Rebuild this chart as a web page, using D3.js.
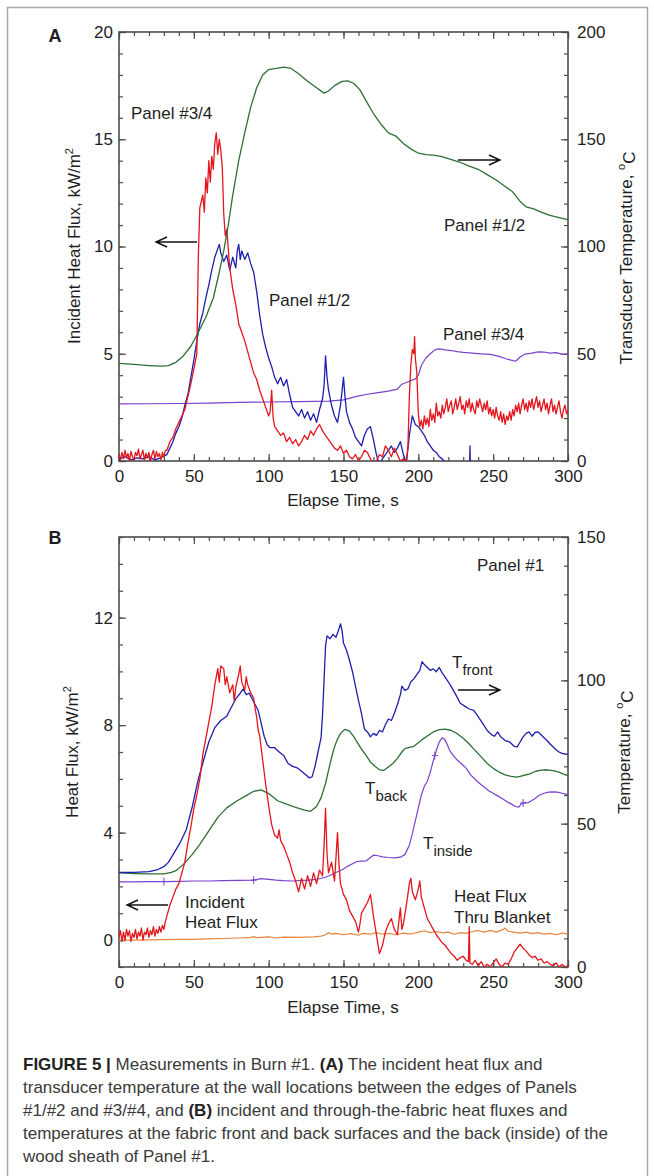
<!DOCTYPE html>
<html>
<head>
<meta charset="utf-8">
<script src="https://cdn.jsdelivr.net/npm/d3@7"></script>
<style>
  body { margin: 0; background: #fff; }
  svg text { font-family: "Liberation Sans", Arial, sans-serif; fill: #1e1e1e; }
</style>
</head>
<body>
<svg id="fig" width="654" height="1176"></svg>
<script>
// ---- panel A : incident heat flux (kW/m2) and transducer temperature (C)
const fluxA34 = [[0,0.3],[1,0.05],[2,0.4],[3,0.1],[4,0.5],[5,0.15],[6,0.35],[7,0.0],[8,0.45],[9,0.2],[10,0.05],[11,0.4],[12,0.25],[13,0.55],[14,0.1],[15,0.3],
  [16,0.5],[17,0.05],[18,0.35],[19,0.15],[20,0.4],[21,0.0],[22,0.3],[23,0.5],[24,0.1],[25,0.45],[26,0.2],[27,0.35],[28,0.05],[29,0.4],[30,0.2],[31,0.5],
  [32,0.5],[34,0.9],[36,1.1],[38,1.5],[40,1.8],[42,2.1],[44,2.4],[46,3.0],[48,3.6],[50,4.3],[52,5.0],[53,9.5],[54,11.8],[56,12.4],[57,11.6],[58,13.2],[59,12.5],
  [60,14.0],[61,13.0],[62,14.2],[63,13.6],[64,14.8],[65,15.3],[66,14.3],[67,15.0],[68,14.5],[69,13.7],[70,11.5],[71,10.5],[72,10.8],[74,9.0],[76,8.0],[78,7.3],
  [80,6.4],[82,6.0],[84,5.6],[86,5.1],[88,4.6],[90,4.1],[92,3.8],[94,3.3],[96,2.9],[98,2.5],[100,2.1],[101,2.3],[102,3.3],[103,2.0],[104,1.6],[106,1.4],[108,1.2],
  [110,1.3],[112,0.9],[114,1.1],[116,0.8],[118,1.0],[120,0.7],[122,0.9],[124,1.2],[126,1.0],[128,1.4],[130,1.2],[132,1.5],[134,1.7],[136,1.4],[138,1.2],[140,1.0],
  [142,0.8],[144,0.6],[146,0.5],[148,0.7],[150,0.35],[152,0.5],[154,0.2],[156,0.1],[158,0.3],[160,0.0],[162,0.2],[164,0.5],[166,0.4],[168,0.1],[170,-0.1],[172,0.0],
  [174,0.3],[176,0.2],[178,0.7],[180,0.5],[182,0.2],[184,0.6],[186,0.3],[188,0.0],[190,0.1],[192,0.0],[193,0.6],[194,3.0],[195,4.5],[196,5.2],[197,5.0],[197.5,5.8],
  [198,4.8],[199,4.1],[200,2.2],[201,1.6],[202,1.9],[203,1.5],[204,2.1],[205,1.7],[206,2.0],[207,1.6],[208,2.4],[209,1.9],[210,2.2],[211,1.8],[212,2.7],[213,2.1],
  [214,2.3],[215,2.0],[216,2.6],[217,2.2],[218,2.5],[219,2.9],[220,2.3],[221,2.6],[222,2.8],[223,2.2],[224,2.5],[225,2.9],[226,2.4],[227,2.7],[228,3.0],[229,2.4],
  [230,2.6],[231,2.2],[232,2.8],[233,2.5],[234,2.9],[235,2.3],[236,2.7],[237,2.4],[238,2.2],[239,2.8],[240,2.5],[241,2.9],[242,2.6],[243,2.3],[244,2.7],[245,2.4],
  [246,2.8],[247,2.2],[248,2.5],[249,2.1],[250,2.4],[251,2.0],[252,2.5],[253,2.1],[254,1.9],[255,2.3],[256,1.8],[257,2.2],[258,1.7],[259,2.1],[260,1.9],[261,2.3],
  [262,1.9],[263,2.4],[264,2.1],[265,2.6],[266,2.3],[267,2.7],[268,2.2],[269,2.6],[270,2.9],[271,2.4],[272,2.7],[273,2.3],[274,2.8],[275,2.5],[276,2.9],[277,2.4],
  [278,2.7],[279,3.0],[280,2.5],[281,2.8],[282,2.3],[283,2.6],[284,2.9],[285,2.4],[286,2.7],[287,2.2],[288,2.6],[289,2.9],[290,2.3],[291,2.6],[292,2.2],[293,2.5],
  [294,2.8],[295,2.3],[296,2.0],[297,2.4],[298,2.6],[299,2.2],[300,2.4]];

const fluxA12 = [[0,0.1],[4,0.2],[8,0.05],[12,0.15],[16,0.1],[20,0.2],[24,0.05],[28,0.15],[32,0.3],[34,0.6],[36,0.9],[38,1.3],[40,1.6],[42,2.0],[44,2.6],[46,3.1],
  [48,3.9],[50,4.7],[52,5.6],[54,6.4],[56,6.9],[58,7.6],[60,8.2],[62,8.9],[64,9.5],[66,9.9],[67,10.1],[68,9.7],[70,9.3],[72,9.6],[74,8.9],[76,9.5],[78,9.0],[79,9.8],
  [80,10.1],[81,9.4],[82,9.8],[84,9.4],[86,9.7],[88,9.2],[90,8.8],[92,7.9],[94,6.8],[96,5.9],[98,5.3],[100,4.8],[102,4.4],[104,3.9],[106,3.6],[108,3.9],[110,3.5],
  [112,3.8],[114,3.1],[116,2.5],[118,2.3],[120,2.1],[122,2.4],[124,2.0],[126,2.3],[128,1.9],[130,2.2],[132,1.8],[134,2.4],[136,2.9],[137,3.5],[138,4.9],[139,3.9],
  [140,3.3],[142,2.6],[144,2.1],[146,1.8],[148,2.6],[150,3.9],[151,3.0],[152,2.3],[154,1.8],[156,1.5],[158,1.1],[160,0.9],[162,0.7],[164,1.2],[166,1.5],[168,1.6],
  [170,1.0],[172,0.3],[174,-0.2],[176,0.1],[178,0.3],[180,0.5],[182,0.7],[184,0.4],[186,0.6],[188,0.9],[190,0.3],[192,-0.1],[194,1.2],[196,2.1],[198,1.7],[200,1.6],
  [202,1.4],[204,1.2],[206,0.9],[208,0.7],[210,0.5],[212,0.4],[214,0.2],[216,0.1],[218,-0.1],[220,-0.4],[224,-0.8],[228,-1],[234,-1],[234.5,0.7],[235,-1],[240,-1]];

const tempA12 = [[0,45.5],[10,45.0],[20,44.5],[28,44.2],[33,44.5],[38,46],[43,49],[48,53.5],[53,60],[58,67],[63,76],[67,88],[70,98],[73,110],[76,124],[80,140],
  [84,153],[88,165],[92,174],[96,180],[100,182.5],[105,183],[110,183.6],[115,183],[120,180.5],[126,177],[132,174],[137,171.5],[140,172.5],[144,175],[149,177],
  [153,177.2],[157,176],[161,173],[165,168],[170,162],[175,157],[180,153],[185,151.5],[190,148],[195,145.5],[200,143.5],[205,142.8],[210,142.6],[215,142.0],
  [220,141],[227,139.5],[234,137.5],[240,136],[246,133.5],[252,131],[258,128],[263,125.5],[268,121],[272,118.5],[277,117.5],[282,116],[288,114.5],[294,113.5],[300,112.5]];

const tempA34 = [[0,26.6],[20,26.7],[40,26.8],[60,27.0],[80,27.3],[100,27.5],[120,27.7],[140,27.9],[150,28.5],[158,30],[165,31],[172,31.8],[180,32.6],[186,33.5],
  [189,35.8],[194,37.2],[198,38.3],[200,40],[202,44.5],[205,48],[208,50],[211,51.8],[214,52.3],[218,51.8],[222,51.5],[226,51.0],[230,50.6],[236,50.3],[242,49.9],
  [248,49.7],[254,48.8],[258,47.8],[262,47.0],[265,46.5],[268,48.5],[271,49.8],[275,50.2],[280,50.9],[284,50.8],[288,50.3],[292,50.5],[296,49.8],[300,49.6]];

// ---- panel B : heat flux (kW/m2) and temperature (C), Panel #1
const fluxBinc = [[0,0.1],[1,0.35],[2,-0.05],[3,0.3],[4,0.0],[5,0.4],[6,0.15],[7,0.35],[8,-0.05],[9,0.25],[10,0.1],[11,0.4],[12,0.05],[13,0.3],[14,0.15],[15,0.45],
  [16,0.0],[17,0.3],[18,0.2],[19,0.45],[20,0.1],[21,0.35],[22,0.2],[23,0.5],[24,0.15],[25,0.4],[26,0.25],[27,0.5],[28,0.3],[29,0.55],[30,0.4],[31,0.7],
  [32,0.9],[34,1.3],[36,1.6],[38,1.9],[40,2.1],[42,2.5],[44,2.9],[46,3.6],[48,4.2],[50,4.9],[52,5.4],[54,6.0],[56,6.9],[58,7.5],[60,8.1],[62,8.7],[64,9.5],[66,10.1],
  [67,9.6],[68,10.2],[70,10.1],[71,9.5],[72,9.8],[74,9.2],[76,9.5],[77,8.9],[78,9.4],[80,9.9],[81,10.2],[82,9.6],[84,9.3],[85,9.8],[86,9.5],[88,9.2],[90,9.0],
  [91,8.6],[92,8.3],[93,7.8],[94,7.6],[96,6.7],[98,5.8],[100,5.0],[102,4.3],[104,3.9],[106,3.8],[107,4.1],[108,3.7],[110,3.5],[112,3.2],[114,2.9],[116,2.5],
  [118,2.2],[120,1.8],[122,2.3],[124,1.9],[126,2.4],[128,2.0],[130,2.5],[132,2.1],[134,2.6],[136,2.4],[137,3.5],[138,4.9],[139,3.2],[140,2.5],[142,2.9],[144,2.2],
  [145,3.1],[146,4.0],[147,2.8],[148,2.1],[150,1.7],[152,1.5],[154,1.1],[156,0.9],[158,0.7],[160,0.3],[161,0.6],[162,1.0],[164,1.2],[166,1.4],[168,1.7],[170,0.9],
  [172,0.2],[174,-0.5],[176,-0.2],[178,0.3],[180,0.6],[182,0.8],[184,0.4],[186,0.2],[188,1.2],[189,0.4],[190,0.6],[192,1.3],[194,2.1],[195,2.3],[196,1.8],[198,1.5],
  [200,1.9],[201,2.2],[202,1.6],[204,1.2],[206,0.8],[208,0.6],[210,0.4],[212,0.2],[214,0.05],[216,-0.1],[218,-0.2],[220,-0.35],[222,-0.5],[224,-0.6],[226,-0.75],
  [228,-0.65],[230,-0.6],[232,-0.75],[233.5,-0.8],[234,0.5],[234.5,-0.85],[236,-0.9],[238,-0.75],[240,-0.95],[242,-0.8],[244,-1.0],[246,-0.9],[248,-1.0],[250,-0.85],
  [252,-0.7],[254,-0.9],[256,-1.0],[258,-0.85],[260,-0.9],[262,-0.7],[264,-0.45],[266,-0.3],[268,-0.15],[270,-0.3],[272,-0.4],[274,-0.55],[276,-0.65],[278,-0.6],
  [280,-0.75],[282,-0.7],[284,-0.85],[286,-0.8],[288,-0.9],[290,-0.95],[292,-0.85],[294,-1.0],[296,-0.9],[298,-1.0],[300,-0.95]];

const fluxBthru = [[0,0],[10,0.0],[20,0.01],[30,0.02],[40,0.03],[50,0.03],[60,0.05],[70,0.06],[80,0.08],[88,0.1],[90,0.13],[92,0.09],[100,0.12],[105,0.08],[110,0.11],
  [120,0.1],[130,0.12],[135,0.15],[138,0.2],[140,0.28],[142,0.22],[145,0.25],[150,0.2],[155,0.24],[160,0.18],[163,0.25],[168,0.22],[172,0.28],[176,0.22],[180,0.25],
  [185,0.2],[190,0.26],[195,0.22],[200,0.3],[204,0.35],[208,0.28],[212,0.32],[216,0.27],[220,0.3],[224,0.22],[228,0.28],[232,0.25],[236,0.32],[240,0.35],[244,0.3],
  [248,0.36],[252,0.3],[256,0.38],[258,0.45],[260,0.33],[264,0.3],[268,0.26],[272,0.3],[276,0.24],[280,0.28],[284,0.22],[288,0.25],[292,0.2],[296,0.26],[300,0.22]];

const tempBfront = [[0,33],[10,33],[20,33.3],[26,34],[30,35],[33,36.5],[37,40],[41,43.5],[45,48],[49,56],[53,65.5],[57,73],[60,78.5],[64,83.5],[68,86],[72,87.5],
  [75,90.5],[78,93.5],[81,95.5],[83,97],[85,95],[87,95.5],[89,93.5],[91,91.5],[93,89.5],[95,85],[97,80.5],[99,77.5],[101,76.5],[104,76.5],[107,75],[110,73.8],
  [113,71],[116,70],[119,69.5],[122,68.3],[125,67],[127,66],[129,66.3],[131,70],[133,75],[135,80],[136,88],[137,100],[138,112],[139,115.5],[141,114.5],[143,116],
  [145,115],[147,118],[148,119.7],[149,117.5],[150,113],[152,110.5],[154,107],[156,103],[158,98],[160,93],[162,88.5],[164,83],[166,82],[168,80.3],[170,81.5],
  [172,80.8],[174,82.5],[176,82],[178,84.5],[180,86.5],[182,86],[184,88.5],[186,91.5],[188,95],[189,98],[191,96.5],[193,97],[195,99.5],[197,100.5],[199,102],
  [201,103.5],[202.5,106.5],[204,105.5],[206,104.5],[208,103.5],[210,104],[212,103],[214,104.5],[216,102.5],[218,101],[220,99.5],[222,97.8],[225,95],[228,92],
  [231,91],[234,90],[237,89.5],[240,87.3],[243,85],[246,82.5],[249,81],[251,80.5],[253,82],[255,80.3],[258,79],[261,78.5],[264,77],[266,76.8],[268,78.5],[270,80.3],
  [272,81.5],[274,82],[276,80.5],[278,81.8],[280,82],[282,81],[284,80],[286,79],[288,77.8],[290,76.8],[292,75.8],[294,75],[296,74.5],[298,74.3],[300,74.2]];

const tempBback = [[0,32.8],[10,32.6],[20,32.5],[30,32.5],[35,33],[38,33.6],[43,35.8],[49,39.3],[54,42.8],[60,47.5],[66,52.2],[72,55.5],[79,58],[85,59.8],[90,61.3],
  [95,61.8],[100,60.5],[106,58],[112,56.8],[118,55.7],[124,54.7],[128,54.3],[132,56],[135,59],[138,64],[140,68.6],[142,73],[144,76.8],[146,79.5],[148,81.5],[151,82.9],
  [154,82.3],[157,80.3],[159,78.5],[162,76],[165,73.9],[168,71.5],[171,70],[174,68.8],[177,68.6],[180,69.8],[183,71],[186,72.8],[189,75],[191,76.2],[194,76.6],
  [197,77],[200,78.2],[203,79.5],[206,80.6],[210,82],[214,82.8],[218,83],[222,82.5],[226,81.4],[230,79.8],[234,77.8],[238,75.5],[242,73.3],[246,71],[250,69.3],
  [254,68],[258,67],[262,66.5],[266,66.2],[270,66.8],[274,67.3],[278,68.2],[282,68.7],[286,68.8],[290,68.5],[294,68],[297,67.3],[300,66.8]];

const tempBinside = [[0,29.7],[10,29.7],[20,29.8],[30,29.8],[40,29.9],[50,30],[60,30],[70,30.1],[80,30.2],[90,30.3],[95,30.8],[100,30.6],[105,30.3],[110,30.1],
  [116,30],[122,30.2],[127,30.3],[133,30.7],[138,31.3],[141,32],[144,32.8],[147,33.4],[150,34.2],[153,35.2],[156,36],[159,36.8],[162,36.9],[165,37],[168,38.2],
  [170,39],[173,38.8],[176,38.4],[180,38.2],[184,38.1],[188,38.3],[191,39.2],[194,42.5],[196,46.5],[198,51],[200,55.5],[202,60],[204,63],[206,64.8],[208,68],
  [210,72],[212,75.5],[214,78.5],[216,80],[217.5,79.5],[219,78],[221,75.5],[223,74],[226,72.2],[229,70.8],[232,69.3],[235,67],[238,65.4],[241,64],[244,62.8],
  [247,61.5],[250,60.6],[253,59.7],[256,58.8],[259,57.7],[262,56.9],[265,56],[267,55.8],[269,57],[271,57.4],[273,57.2],[275,57.8],[278,58.8],[281,60],[284,60.6],
  [287,61],[290,61.1],[293,61],[296,60.6],[300,60.1]];
const insideMarks = [30, 90, 211, 270];

// ---- axis ticks
const timeTicks = [0, 50, 100, 150, 200, 250, 300];
const fluxTicksA = [0, 5, 10, 15, 20];
const tempTicksA = [0, 50, 100, 150, 200];
const fluxTicksB = [0, 4, 8, 12];
const tempTicksB = [0, 50, 100, 150];

const captionLines = [
  [["FIGURE 5 | ", true], ["Measurements in Burn #1. ", false], ["(A)", true], [" The incident heat flux and", false]],
  [["transducer temperature at the wall locations between the edges of Panels", false]],
  [["#1/#2 and #3/#4, and ", false], ["(B)", true], [" incident and through-the-fabric heat fluxes and", false]],
  [["temperatures at the fabric front and back surfaces and the back (inside) of the", false]],
  [["wood sheath of Panel #1.", false]]
];

const col = { red: "#e3161d", blue: "#1f1fae", green: "#2e6f36", purple: "#7b42cc", orange: "#e8853d", axis: "#4d4d4d" };

const svg = d3.select("#fig");
const left = 119, right = 568;

svg.append("rect")
  .attr("x", 7.5).attr("y", 7.5).attr("width", 640).attr("height", 1200)
  .attr("fill", "none").attr("stroke", "#a8a8a8").attr("stroke-width", 1.5);

function makePanel(id, top, bottom, yLdom, yRdom, lTicks, rTicks, lMinor, rMinor) {
  let x = d3.scaleLinear().domain([0, 300]).range([left, right]);
  let yL = d3.scaleLinear().domain(yLdom).range([bottom, top]);
  let yR = d3.scaleLinear().domain(yRdom).range([bottom, top]);
  let g = svg.append("g").attr("id", id);

  g.append("clipPath").attr("id", id + "-clip")
    .append("rect").attr("x", left).attr("y", top).attr("width", right - left).attr("height", bottom - top);

  let minorAxis = (axis, vals) => axis.tickValues(vals).tickSize(-4).tickFormat("");
  let tweak = sel => {
    sel.select(".domain").remove();
    sel.selectAll("line").attr("stroke", col.axis).attr("stroke-width", 1.2);
    sel.selectAll("text").attr("font-size", 17).attr("fill", "#1e1e1e")
      .attr("font-family", '"Liberation Sans", Arial, sans-serif');
  };

  // x axis bottom and top
  g.append("g").attr("transform", `translate(0,${bottom})`)
    .call(minorAxis(d3.axisBottom(x), d3.range(0, 301, 10))).call(tweak);
  g.append("g").attr("transform", `translate(0,${bottom})`)
    .call(d3.axisBottom(x).tickValues(timeTicks).tickSize(-7).tickPadding(9)).call(tweak);
  g.append("g").attr("transform", `translate(0,${top})`)
    .call(minorAxis(d3.axisTop(x), d3.range(0, 301, 10))).call(tweak);
  g.append("g").attr("transform", `translate(0,${top})`)
    .call(d3.axisTop(x).tickValues(timeTicks).tickSize(-7).tickFormat("")).call(tweak);

  // left and right axes
  g.append("g").attr("transform", `translate(${left},0)`)
    .call(minorAxis(d3.axisLeft(yL), lMinor)).call(tweak);
  g.append("g").attr("transform", `translate(${left},0)`)
    .call(d3.axisLeft(yL).tickValues(lTicks).tickSize(-7).tickPadding(6)).call(tweak);
  g.append("g").attr("transform", `translate(${right},0)`)
    .call(minorAxis(d3.axisRight(yR), rMinor)).call(tweak);
  g.append("g").attr("transform", `translate(${right},0)`)
    .call(d3.axisRight(yR).tickValues(rTicks).tickSize(-7).tickPadding(9)).call(tweak);

  g.append("rect")
    .attr("x", left).attr("y", top).attr("width", right - left).attr("height", bottom - top)
    .attr("fill", "none").attr("stroke", col.axis).attr("stroke-width", 1.6);

  let lines = g.append("g").attr("clip-path", `url(#${id}-clip)`);
  return { x, yL, yR, g, lines };
}

function addLine(p, data, y, color, w) {
  let line = d3.line().x(d => p.x(d[0])).y(d => y(d[1]));
  p.lines.append("path").datum(data)
    .attr("d", line).attr("fill", "none")
    .attr("stroke", color).attr("stroke-width", w || 1.3)
    .attr("stroke-linejoin", "round");
}

function label(x, y, txt, opts) {
  opts = opts || {};
  return svg.append("text").attr("x", x).attr("y", y)
    .attr("dominant-baseline", "central")
    .attr("text-anchor", opts.anchor || "start")
    .attr("font-size", opts.size || 17)
    .attr("font-weight", opts.weight || "normal")
    .text(txt);
}

function arrow(x1, x2, y) {
  let d = x2 > x1 ? 1 : -1;
  svg.append("path")
    .attr("d", `M${x1},${y}L${x2},${y}M${x2 - d * 11},${y - 5}L${x2},${y}L${x2 - d * 11},${y + 5}`)
    .attr("fill", "none").attr("stroke", "#111").attr("stroke-width", 1.4);
}

function subLabel(x, y, main, sub) {
  let t = label(x, y, main);
  t.append("tspan").attr("dy", "0.45em").attr("font-size", 15).text(sub);
}

function yTitle(x, y, main, sup, tail) {
  let t = svg.append("text")
    .attr("transform", `translate(${x},${y}) rotate(-90)`)
    .attr("text-anchor", "middle").attr("dominant-baseline", "central")
    .attr("font-size", 17).text(main);
  t.append("tspan").attr("dy", "-0.5em").attr("font-size", 11).text(sup);
  if (tail) t.append("tspan").attr("dy", "0.5em").text(tail);
}

// ---------------- panel A
const pA = makePanel("panelA", 32, 461, [0, 20], [0, 200], fluxTicksA, tempTicksA,
  d3.range(0, 21, 1), d3.range(0, 201, 10));
addLine(pA, tempA34, pA.yR, col.purple, 1.2);
addLine(pA, fluxA12, pA.yL, col.blue, 1.3);
addLine(pA, fluxA34, pA.yL, col.red, 1.3);
addLine(pA, tempA12, pA.yR, col.green, 1.3);

label(55, 36, "A", { anchor: "middle", weight: "bold", size: 18 });
label(343, 500, "Elapse Time, s", { anchor: "middle" });
yTitle(74, 246, "Incident Heat Flux, kW/m", "2");
yTitle(626, 258, "Transducer Temperature, ", "o", "C");
label(131, 113, "Panel #3/4");
arrow(197, 156, 242);
label(269, 300, "Panel #1/2");
arrow(458, 500, 160);
label(444, 225, "Panel #1/2");
label(443, 334, "Panel #3/4");

// ---------------- panel B
const pB = makePanel("panelB", 537, 967, [-1, 15], [0, 150], fluxTicksB, tempTicksB,
  d3.range(-1, 16, 1), d3.range(0, 151, 10));
addLine(pB, fluxBthru, pB.yL, col.orange, 1.2);
addLine(pB, tempBinside, pB.yR, col.purple, 1.2);
addLine(pB, tempBback, pB.yR, col.green, 1.3);
addLine(pB, tempBfront, pB.yR, col.blue, 1.3);
addLine(pB, fluxBinc, pB.yL, col.red, 1.3);

// small markers sitting on the inside-temperature trace
const insideAt = d3.scaleLinear().domain(tempBinside.map(d => d[0])).range(tempBinside.map(d => d[1]));
pB.lines.selectAll(".mark").data(insideMarks).join("path")
  .attr("d", t => `M${pB.x(t)},${pB.yR(insideAt(t)) - 4}v8M${pB.x(t) - 3},${pB.yR(insideAt(t))}h6`)
  .attr("stroke", col.purple).attr("stroke-width", 1);

label(55, 538, "B", { anchor: "middle", weight: "bold", size: 18 });
label(343, 1007, "Elapse Time, s", { anchor: "middle" });
yTitle(72, 752, "Heat Flux, kW/m", "2");
yTitle(624, 752, "Temperature, ", "o", "C");
label(477, 565, "Panel #1");
subLabel(452, 662, "T", "front");
arrow(458, 500, 690);
subLabel(365, 788, "T", "back");
subLabel(423, 843, "T", "inside");
arrow(168, 127, 905);
label(185, 902, "Incident");
label(185, 922, "Heat Flux");
label(454, 896, "Heat Flux");
label(454, 917, "Thru Blanket");

// ---------------- caption
const cap = svg.append("g");
captionLines.forEach((segs, i) => {
  let t = cap.append("text").attr("x", 23).attr("y", 1064 + i * 23)
    .attr("dominant-baseline", "central").attr("font-size", 17).attr("fill", "#333");
  segs.forEach(s => {
    t.append("tspan").attr("font-weight", s[1] ? "bold" : "normal")
      .attr("fill", s[1] ? "#222" : "#3a3a3a").text(s[0]);
  });
});
</script>
</body>
</html>
